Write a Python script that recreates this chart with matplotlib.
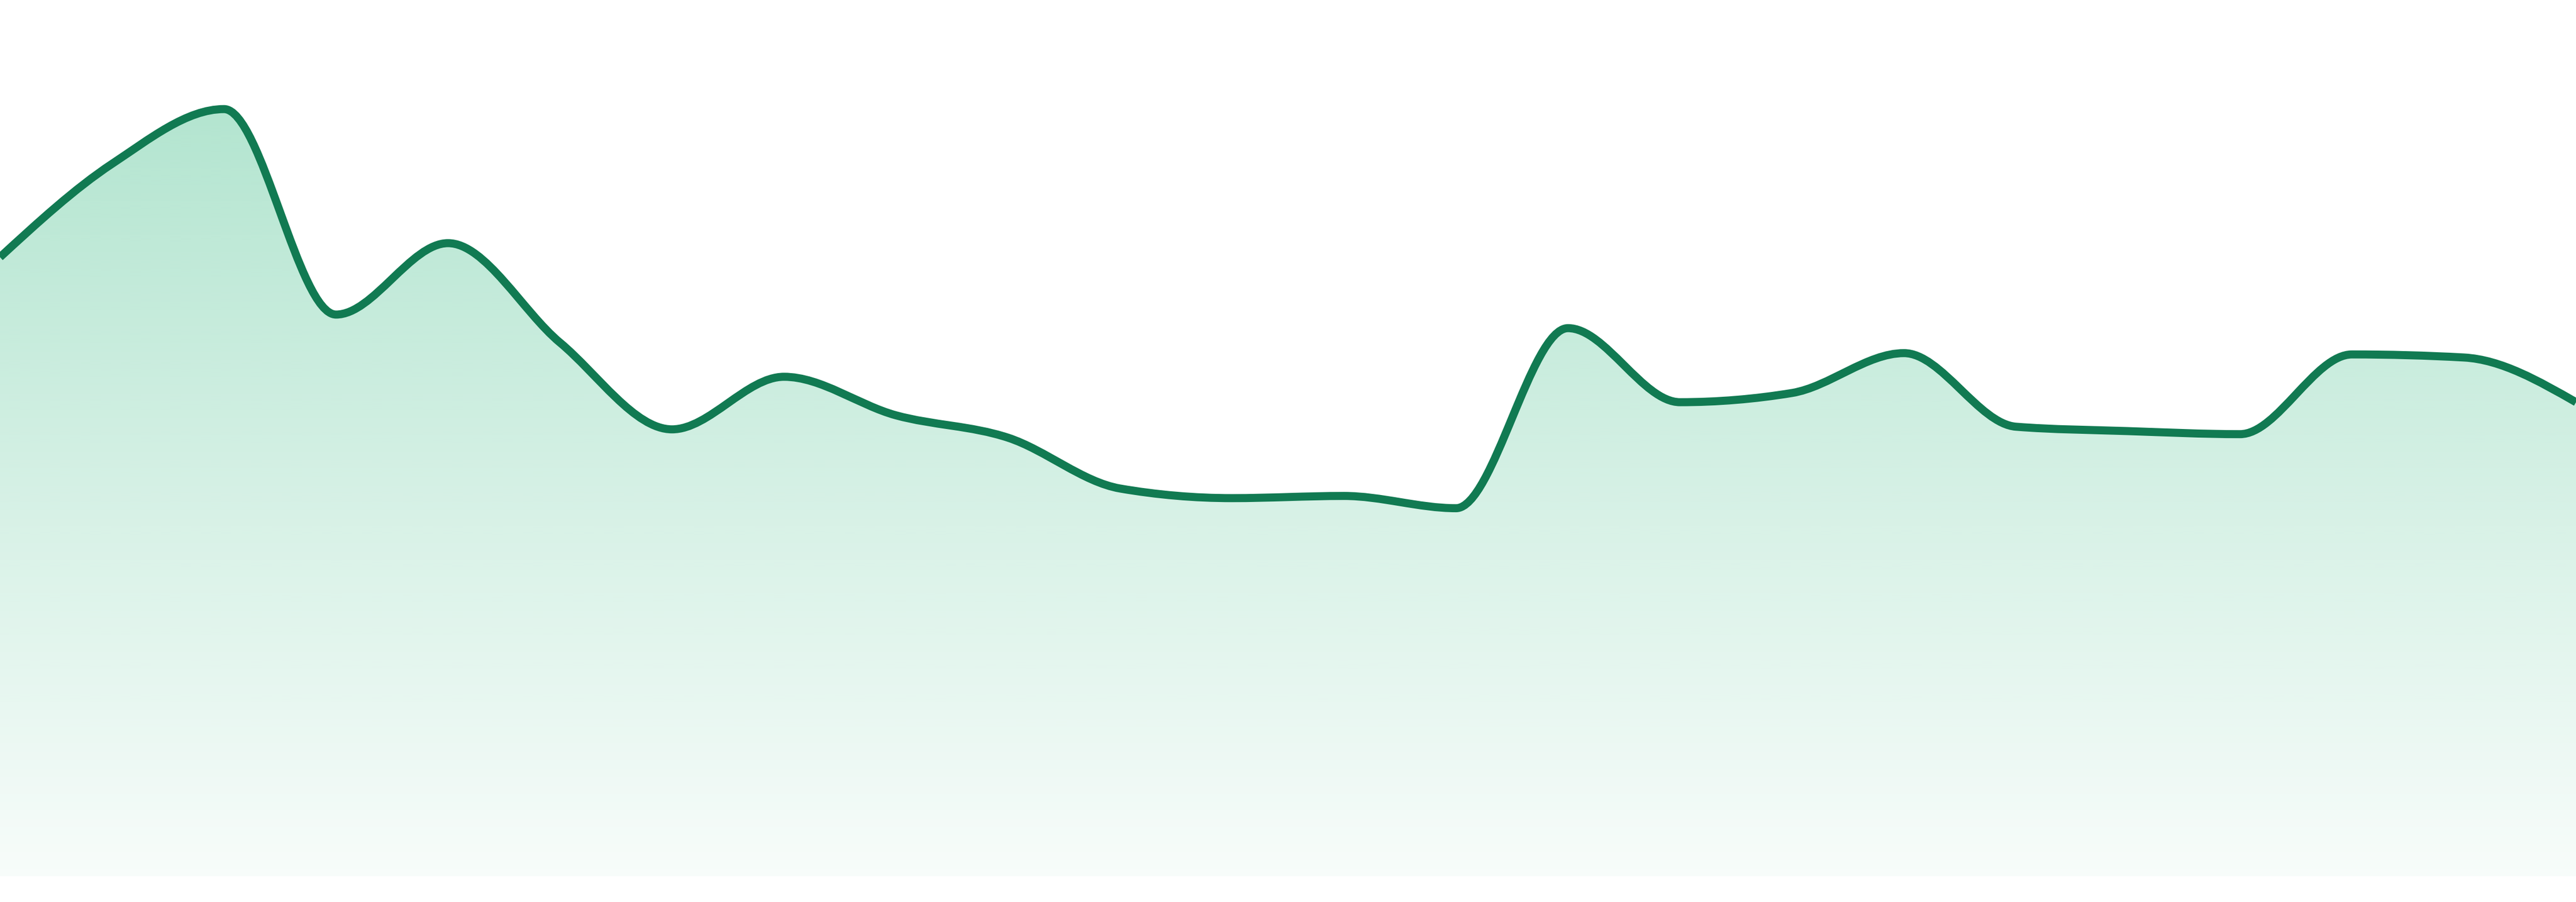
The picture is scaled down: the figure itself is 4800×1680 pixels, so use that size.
import numpy as np
import matplotlib
matplotlib.use("Agg")
import matplotlib.pyplot as plt
from matplotlib.path import Path
from matplotlib.patches import PathPatch
from matplotlib.colors import to_rgb

# ---- data ----
x_index = list(range(24))
values = [70.65, 81.3, 87.55, 64.1, 72.25, 60.9, 51.0, 57.0, 52.6, 50.05, 44.25, 43.15,
          43.4, 42.0, 62.55, 54.1, 55.15, 59.7, 51.3, 50.8, 50.45, 59.55, 59.2, 54.1]
y_domain = [0, 100]

LINE_COLOR = "#117a52"
FILL_COLOR = "#41be89"


def monotone_tangents(x, y):
    x = np.asarray(x, float)
    y = np.asarray(y, float)
    n = len(x)
    t = np.zeros(n)
    h = np.diff(x)
    s = np.diff(y) / h
    for i in range(1, n - 1):
        h0, h1 = h[i - 1], h[i]
        s0, s1 = s[i - 1], s[i]
        p = (s0 * h1 + s1 * h0) / (h0 + h1)
        t[i] = (np.sign(s0) + np.sign(s1)) * min(abs(s0), abs(s1), 0.5 * abs(p))
    t[0] = (3 * s[0] - t[1]) / 2
    t[-1] = (3 * s[-1] - t[-2]) / 2
    return t


def monotone_path_vertices(x, y):
    t = monotone_tangents(x, y)
    verts = [(x[0], y[0])]
    codes = [Path.MOVETO]
    for i in range(len(x) - 1):
        dx = (x[i + 1] - x[i]) / 3.0
        verts += [(x[i] + dx, y[i] + dx * t[i]),
                  (x[i + 1] - dx, y[i + 1] - dx * t[i + 1]),
                  (x[i + 1], y[i + 1])]
        codes += [Path.CURVE4] * 3
    return verts, codes


W, H, DPI = 4800, 1680, 100
fig = plt.figure(figsize=(W / DPI, H / DPI), dpi=DPI)
fig.patch.set_facecolor("white")
ax = fig.add_axes([0, 48 / H, 1, 1632 / H])
ax.set_xlim(x_index[0], x_index[-1])
ax.set_ylim(*y_domain)
ax.axis("off")

verts, codes = monotone_path_vertices(x_index, values)

# area
area_verts = verts + [(x_index[-1], y_domain[0]), (x_index[0], y_domain[0]), (x_index[0], values[0])]
area_codes = codes + [Path.LINETO, Path.LINETO, Path.CLOSEPOLY]
area_patch = PathPatch(Path(area_verts, area_codes), facecolor="none", edgecolor="none")
ax.add_patch(area_patch)

rgb = to_rgb(FILL_COLOR)
ngrad = 512
grad = np.zeros((ngrad, 1, 4))
grad[:, 0, 0] = rgb[0]
grad[:, 0, 1] = rgb[1]
grad[:, 0, 2] = rgb[2]
grad[:, 0, 3] = np.linspace(0.04, 0.40, ngrad)
im = ax.imshow(grad, extent=[x_index[0], x_index[-1], y_domain[0], max(values)],
               origin="lower", aspect="auto", interpolation="bilinear", zorder=1)
im.set_clip_path(area_patch)

# line
line_patch = PathPatch(Path(verts, codes), facecolor="none", edgecolor=LINE_COLOR,
                       linewidth=15 * 72 / DPI, capstyle="butt", joinstyle="round", zorder=2)
ax.add_patch(line_patch)

fig.savefig("out.png", dpi=DPI, facecolor="white")
